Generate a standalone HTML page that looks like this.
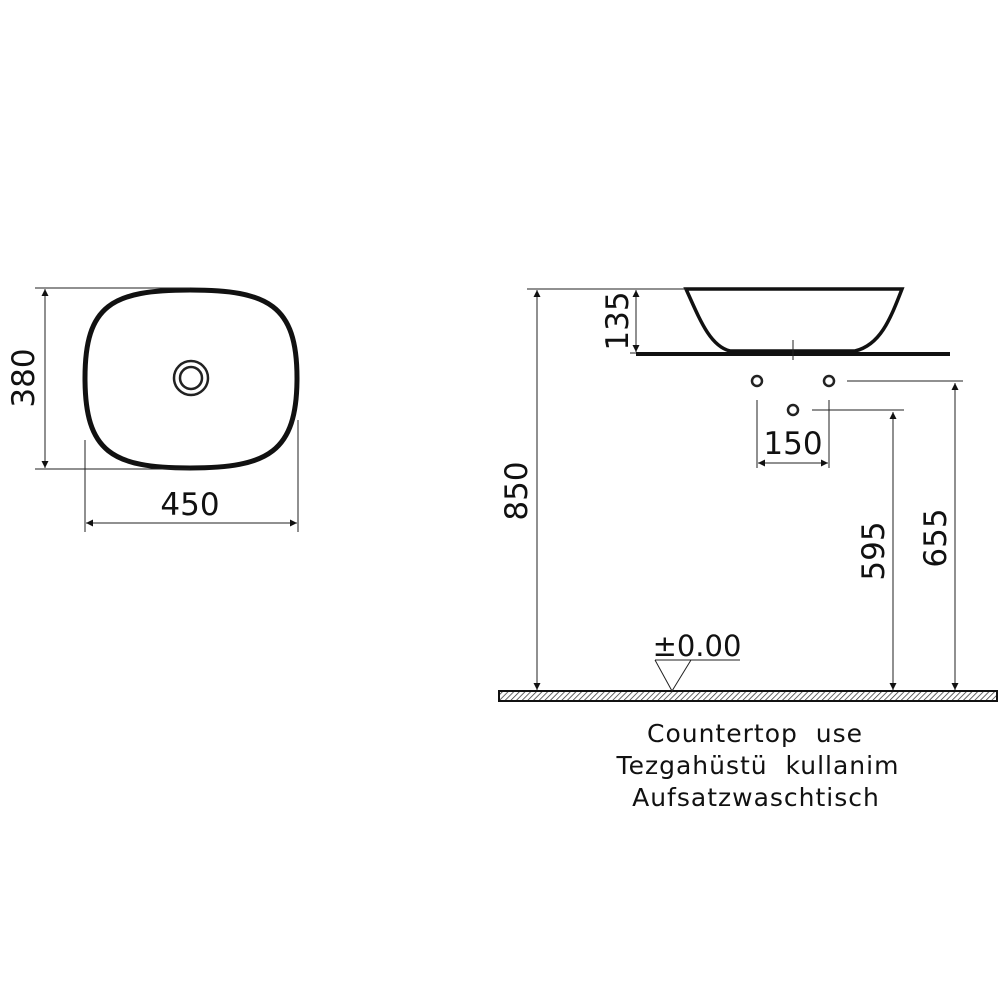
<!DOCTYPE html>
<html><head><meta charset="utf-8"><style>
html,body{margin:0;padding:0;background:#fff;}
svg{display:block}
text{font-family:"DejaVu Sans","Liberation Sans",sans-serif;fill:#111}
</style></head><body>
<svg width="1000" height="1000" viewBox="0 0 1000 1000" xmlns="http://www.w3.org/2000/svg">
<defs>
<pattern id="h" width="4" height="4" patternUnits="userSpaceOnUse" patternTransform="rotate(45)">
<line x1="0" y1="0" x2="0" y2="4" stroke="#333" stroke-width="1.5"/></pattern>
<marker id="a" viewBox="0 0 10 10" refX="10" refY="5" markerWidth="16" markerHeight="7" orient="auto-start-reverse" markerUnits="userSpaceOnUse"><path d="M0,0 L10,5 L0,10z" fill="#111"/></marker>
</defs>
<g stroke="#222" stroke-width="1" fill="none">
<path d="M190,290 C268,290 297,305 297,378 C297,452 268,468 190,468 C112,468 85,452 85,378 C85,305 112,290 190,290 Z" stroke="#111" stroke-width="5"/>
<circle cx="191" cy="378" r="17" stroke-width="2.5"/>
<circle cx="191" cy="378" r="11" stroke-width="2.5"/>
<line x1="35" y1="288" x2="190" y2="288"/>
<line x1="35" y1="469" x2="190" y2="469"/>
<line x1="45" y1="289" x2="45" y2="468" marker-start="url(#a)" marker-end="url(#a)"/>
<line x1="85" y1="440" x2="85" y2="532"/>
<line x1="298" y1="420" x2="298" y2="532"/>
<line x1="86" y1="523" x2="297" y2="523" marker-start="url(#a)" marker-end="url(#a)"/>
<path d="M686,289 L902,289 C890,320 880,345 855,351 L730,351 C710,346 700,320 686,289 Z" stroke="#111" stroke-width="3.5"/>
<rect x="636" y="352" width="314" height="4" fill="#111" stroke="none"/>
<line x1="793" y1="340" x2="793" y2="360"/>
<line x1="527" y1="289" x2="686" y2="289"/>
<line x1="630" y1="353" x2="636" y2="353"/>
<line x1="636" y1="290" x2="636" y2="352" marker-start="url(#a)" marker-end="url(#a)"/>
<line x1="537" y1="290" x2="537" y2="690" marker-start="url(#a)" marker-end="url(#a)"/>
<circle cx="757" cy="381" r="5" stroke-width="2.5"/>
<circle cx="829" cy="381" r="5" stroke-width="2.5"/>
<circle cx="793" cy="410" r="5" stroke-width="2.5"/>
<line x1="847" y1="381" x2="963" y2="381"/>
<line x1="812" y1="410" x2="904" y2="410"/>
<line x1="757" y1="400" x2="757" y2="468"/>
<line x1="829" y1="400" x2="829" y2="468"/>
<line x1="758" y1="463" x2="828" y2="463" marker-start="url(#a)" marker-end="url(#a)"/>
<line x1="893" y1="412" x2="893" y2="690" marker-start="url(#a)" marker-end="url(#a)"/>
<line x1="955" y1="383" x2="955" y2="690" marker-start="url(#a)" marker-end="url(#a)"/>
<rect x="499" y="691" width="498" height="10" fill="url(#h)" stroke="#111" stroke-width="2"/>
<line x1="655" y1="660" x2="740" y2="660"/>
<path d="M655,660 L672,691 L691,660"/>
</g>
<g font-size="31">
<text x="0" y="0" transform="translate(34,378) rotate(-90)" text-anchor="middle">380</text>
<text x="190" y="515" text-anchor="middle">450</text>
<text x="0" y="0" transform="translate(628,321) rotate(-90)" text-anchor="middle">135</text>
<text x="0" y="0" transform="translate(527,491) rotate(-90)" text-anchor="middle">850</text>
<text x="793" y="454" text-anchor="middle">150</text>
<text x="0" y="0" transform="translate(884,551) rotate(-90)" text-anchor="middle">595</text>
<text x="0" y="0" transform="translate(946,538) rotate(-90)" text-anchor="middle">655</text>
<text x="697" y="656" text-anchor="middle" font-size="29">±0.00</text>
</g>
<g font-size="25" text-anchor="middle" letter-spacing="1">
<text x="755" y="742">Countertop&#160;&#160;use</text>
<text x="758" y="774">Tezgahüstü&#160;&#160;kullanim</text>
<text x="756" y="806">Aufsatzwaschtisch</text>
</g>
</svg>
</body></html>
